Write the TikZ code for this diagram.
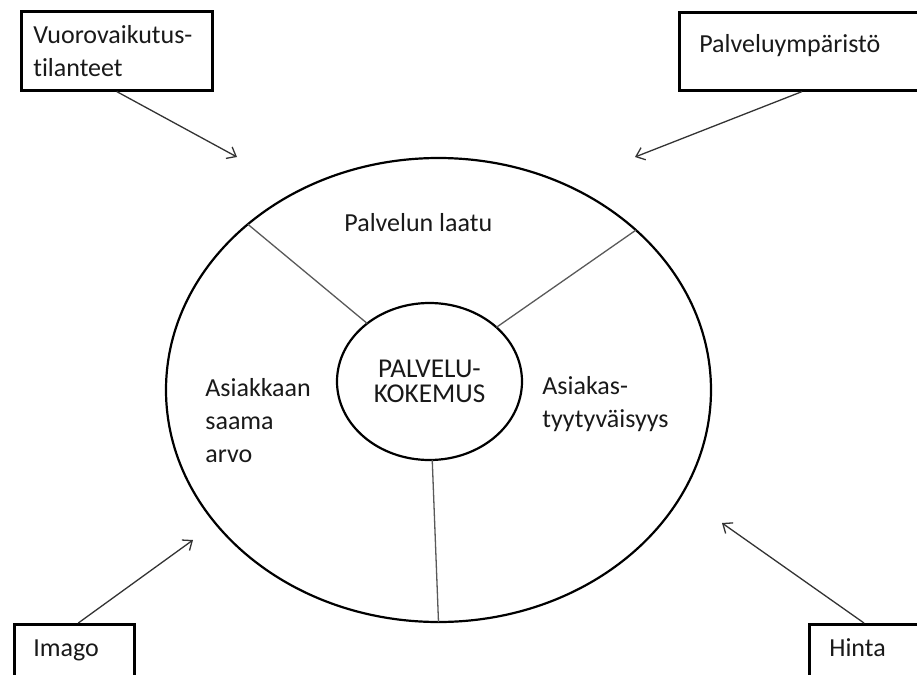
\documentclass[tikz,border=0pt]{standalone}
\usepackage{fontspec}
\setmainfont{Carlito}[Ligatures=NoCommon]
\usetikzlibrary{shapes.geometric,arrows.meta}

\begin{document}
\begin{tikzpicture}[x=0.5pt,y=-0.5pt,
    texto/.style={font=\fontsize{13}{16.5}\selectfont, text=black!90},
    caixa/.style={draw=black, line width=1.3pt, inner ysep=0pt, align=left, texto},
    elipse/.style={ellipse, draw=black, line width=1.1pt, inner sep=0pt, outer sep=0pt},
    raio/.style={draw=black!65, line width=0.65pt},
    seta/.style={draw=black!80, line width=0.65pt, -{Straight Barb[length=4pt,width=6.5pt]}}]

    % 0. Moldura da figura (917 x 675)
    \useasboundingbox (0,0) rectangle (917,675);

    % 1. Anel externo e o núcleo (elipses)
    \node[elipse, minimum width=272.5pt, minimum height=232pt] (anel) at (438.5,390) {};
    \node[elipse, minimum width=92.5pt, minimum height=78.5pt, texto, align=center,
          font=\fontsize{13.6}{12.4}\selectfont] (nucleo) at (429.5,381.5) {PALVELU-\\KOKEMUS};

    % 2. Raios que dividem o anel em três setores
    \draw[raio] (nucleo.137.8) -- (anel.139.1);
    \draw[raio] (nucleo.39.1) -- (anel.39.9);
    \draw[raio] (nucleo.272.6) -- (anel.270.4);

    % 3. Rótulos dos setores
    \node[texto, anchor=base west, inner sep=0pt] (laatu) at (344,231) {Palvelun laatu};
    \node[texto, anchor=base west, inner sep=0pt, text width=60pt, align=left] (arvo) at (205,396) {Asiakkaan\\saama\\arvo};
    \node[texto, anchor=base west, inner sep=0pt, text width=70pt, align=left] (tyytyvaisyys) at (542,394) {Asiakas-\\tyytyväisyys};

    % 4. Caixas dos fatores externos (algumas passam da borda)
    \node[caixa, anchor=north west, inner xsep=6pt, text width=83.5pt, minimum height=39.5pt,
          text height=9pt] (vuoro) at (20,10) {Vuorovaikutus-\\tilanteet};
    \node[caixa, anchor=north west, inner xsep=10pt, text width=110pt, minimum height=39pt,
          text height=9pt, text depth=8pt] (ymparisto) at (678,11) {Palveluympäristö};
    \node[caixa, anchor=north west, inner xsep=9.5pt, text width=41pt, minimum height=35pt,
          text height=9pt, text depth=12pt] (imago) at (13,623) {Imago};
    \node[caixa, anchor=north west, inner xsep=10pt, text width=46pt, minimum height=35pt,
          text height=9pt, text depth=12pt] (hinta) at (808,623) {Hinta};

    % 5. Setas apontando para o anel
    \coordinate (alvo1) at (237,157);
    \coordinate (alvo2) at (635,157);
    \coordinate (alvo3) at (193,540);
    \coordinate (alvo4) at (722,523);

    \draw[seta] (vuoro.south) -- (alvo1);
    \draw[seta] ([xshift=62pt]ymparisto.south west) -- (alvo2);
    \draw[seta] ([xshift=2pt]imago.north) -- (alvo3);
    \draw[seta] ([xshift=28pt]hinta.north west) -- (alvo4);

\end{tikzpicture}
\end{document}
